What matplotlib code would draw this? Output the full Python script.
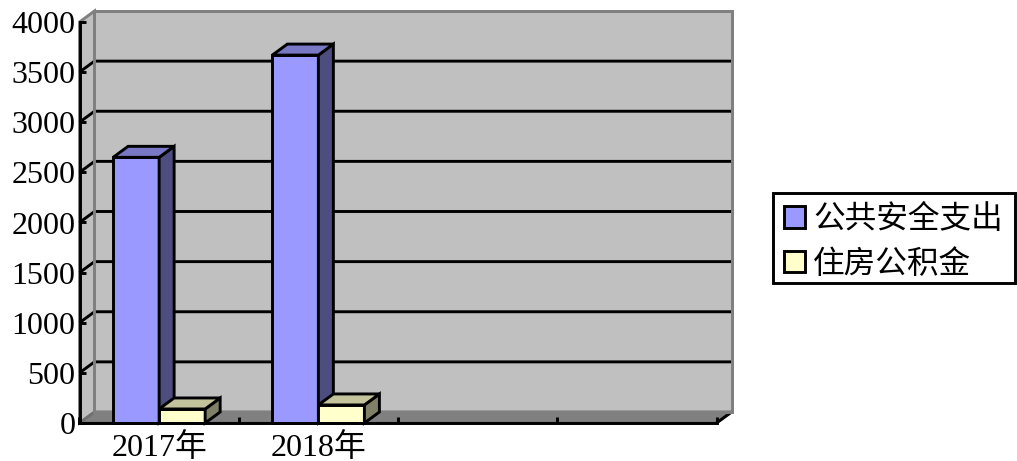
import matplotlib
matplotlib.use("Agg")
from matplotlib import pyplot as plt
from matplotlib.patches import Patch, Polygon, Rectangle

plt.rcParams['font.family'] = ['Liberation Serif', 'Noto Sans CJK SC']

categories = ['2017年', '2018年', '', '']
names = ['公共安全支出', '住房公积金']
public_safety = [2650, 3670]
housing_fund = [140, 180]
yticks = [0, 500, 1000, 1500, 2000, 2500, 3000, 3500, 4000]

fronts = ['#9999FF', '#FFFFCC']
sides = ['#4D4D80', '#808066']
tops = ['#7878C4', '#C4C49C']

BAR_W = 0.289
# depth of the fake 3d box, in data units
DX = 15 / 159.25
DY = 11 / 401 * 4000
LW = 2.1


def box(ax, x, value, i):
    """One 3d column: front from ax.bar, side and top as polygons"""
    left, right = x - BAR_W / 2, x + BAR_W / 2
    ax.bar(x, value, BAR_W, color=fronts[i], edgecolor='black', linewidth=LW,
           zorder=3, clip_on=False)
    side = [(right, 0), (right + DX, DY), (right + DX, value + DY), (right, value)]
    top = [(left, value), (left + DX, value + DY), (right + DX, value + DY), (right, value)]
    ax.add_patch(Polygon(side, fc=sides[i], ec='black', lw=LW, zorder=3, clip_on=False))
    ax.add_patch(Polygon(top, fc=tops[i], ec='black', lw=LW, zorder=3, clip_on=False))


fig = plt.figure(figsize=(10.17, 4.61), dpi=100)
ax = fig.add_axes([79.5 / 1017, 38 / 461, 637 / 1017, 401 / 461])
ax.set_facecolor('none')
ax.set_xlim(-0.5, 3.5)
ax.set_ylim(0, 4000)

x0, x1 = -0.5, 3.5
y1 = 4000

# walls and floor
wall = [(x0 + DX, DY), (x0 + DX, y1 + DY), (x1 + DX, y1 + DY), (x1 + DX, DY)]
side_wall = [(x0, 0), (x0, y1), (x0 + DX, y1 + DY), (x0 + DX, DY)]
floor = [(x0, 0), (x0 + DX, DY), (x1 + DX, DY), (x1, 0)]
ax.add_patch(Polygon(wall, fc='#C0C0C0', ec='#808080', lw=LW, zorder=0, clip_on=False))
ax.add_patch(Polygon(side_wall, fc='#C0C0C0', ec='#808080', lw=LW, zorder=1, clip_on=False))
ax.add_patch(Polygon(floor, fc='#808080', ec='#707070', lw=LW, zorder=1, clip_on=False))

# gridlines run along the back wall and down the side wall
for v in yticks[1:-1]:
    ax.plot([x0, x0 + DX, x1 + DX], [v, v + DY, v + DY], color='black', lw=LW,
            zorder=2, clip_on=False, solid_joinstyle='miter', solid_capstyle='butt')
ax.plot([x1, x1 + DX], [0, DY], color='black', lw=LW, zorder=2, clip_on=False,
        solid_capstyle='butt')
ax.add_patch(Polygon(wall, fc='none', ec='#808080', lw=LW, zorder=2, clip_on=False))

for i, v in enumerate(public_safety):
    box(ax, i - BAR_W / 2, v, 0)
    box(ax, i + BAR_W / 2, housing_fund[i], 1)

for s in ['top', 'right']:
    ax.spines[s].set_visible(False)
for s in ['left', 'bottom']:
    ax.spines[s].set_linewidth(LW)
    ax.spines[s].set_zorder(4)

ax.set_yticks(yticks)
ax.tick_params(axis='y', direction='in', length=4.5, width=LW, pad=3, labelsize=23)
ax.set_xticks(range(len(categories)))
ax.set_xticklabels(categories)
ax.tick_params(axis='x', which='major', length=0, pad=7, labelsize=23)
ax.set_xticks([-0.5, 0.5, 1.5, 2.5, 3.5], minor=True)
ax.tick_params(axis='x', which='minor', direction='in', length=4.5, width=LW)

# legend frame drawn apart so the entries can sit low in it, as in the reference
fig.add_artist(Rectangle((773 / 1017, (461 - 283) / 461), 242 / 1017, 90 / 461,
                         transform=fig.transFigure, fc='white', ec='black', lw=LW))
handles = [Patch(fc=fronts[0], ec='black', lw=LW), Patch(fc=fronts[1], ec='black', lw=LW)]
leg = fig.legend(handles, names, loc='lower left',
                 bbox_to_anchor=(774 / 1017, (461 - 289) / 461),
                 fontsize=22.8, frameon=False, borderpad=0.3, labelspacing=0.46,
                 handlelength=0.68, handleheight=0.68, handletextpad=0.26,
                 borderaxespad=0)

fig.savefig('out.png', dpi=100)
